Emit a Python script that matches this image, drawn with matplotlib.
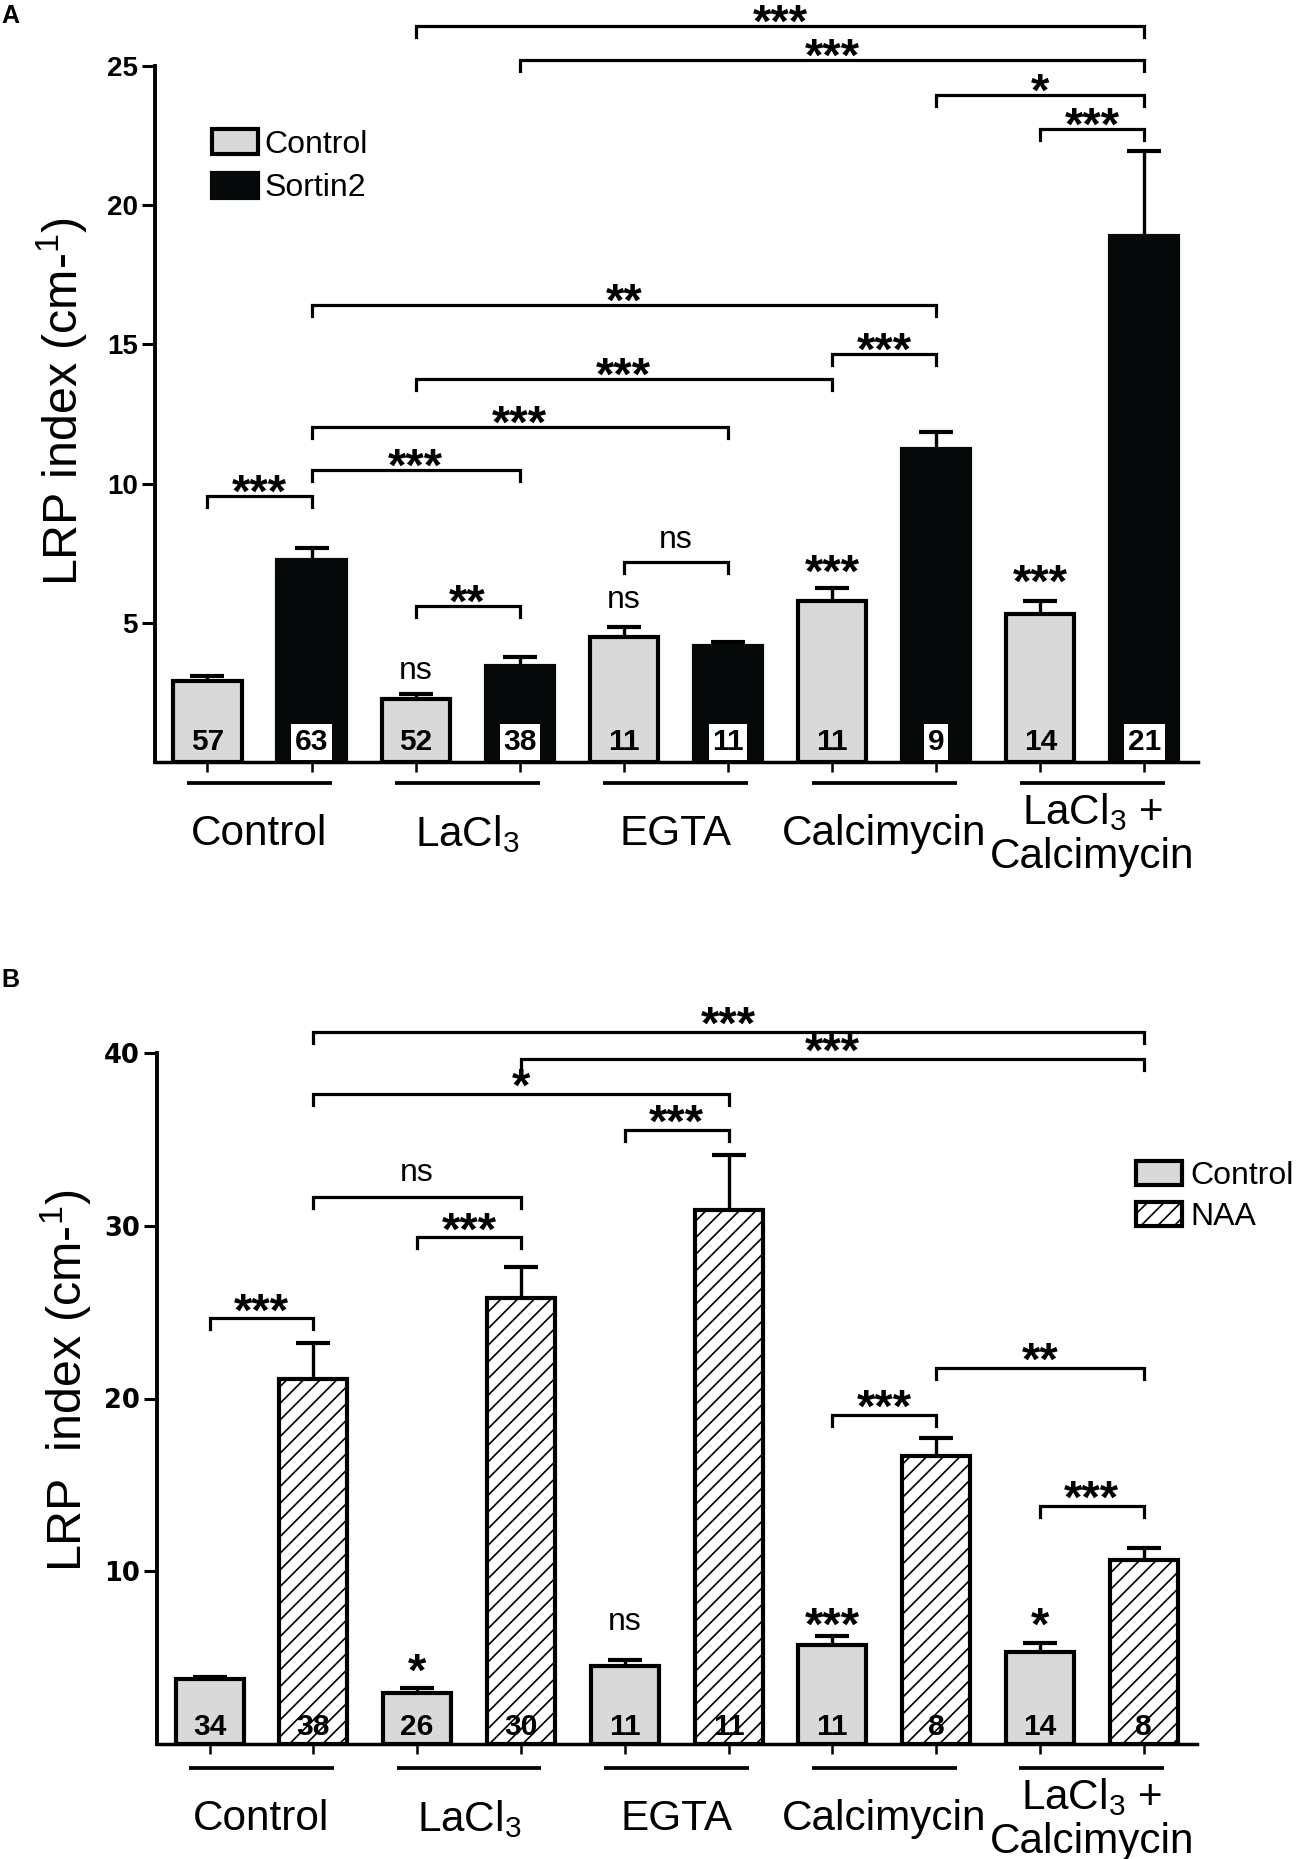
import numpy as np
import matplotlib
matplotlib.use('Agg')
import matplotlib.pyplot as plt
import matplotlib.transforms as mtransforms
from matplotlib import font_manager
from matplotlib.patches import Patch

_names = {f.name for f in font_manager.fontManager.ttflist}
if 'Liberation Sans Narrow' in _names:
    NARROW, NS = 'Liberation Sans Narrow', 1.0
else:
    NARROW, NS = 'Liberation Sans', 0.87
SANS = 'Liberation Sans'
plt.rcParams['font.family'] = [SANS, 'DejaVu Sans']
plt.rcParams['hatch.linewidth'] = 1.2

# ---------------- data ----------------
groups = ['Control', r'LaCl$_\mathregular{3}$', 'EGTA', 'Calcimycin',
          r'LaCl$_\mathregular{3}$ +' + '\n' + 'Calcimycin']

a_control_mean = [2.9, 2.25, 4.5, 5.8, 5.3]
a_control_sem = [0.2, 0.2, 0.35, 0.45, 0.5]
a_sortin2_mean = [7.25, 3.45, 4.15, 11.25, 18.9]
a_sortin2_sem = [0.42, 0.33, 0.17, 0.6, 3.05]
a_control_n = [57, 52, 11, 11, 14]
a_sortin2_n = [63, 38, 11, 9, 21]
a_yticks = [5, 10, 15, 20, 25]
# (bar i, bar j, bracket level, label); bar index = 2*group + series
a_brackets = [(0, 1, 9.55, '***'), (1, 3, 10.49, '***'), (1, 5, 12.04, '***'),
              (2, 6, 13.77, '***'), (6, 7, 14.66, '***'), (1, 7, 16.42, '**'),
              (4, 5, 7.19, 'ns'), (2, 3, 5.60, '**'), (2, 9, 26.44, '***'),
              (3, 9, 25.22, '***'), (7, 9, 23.96, '*'), (8, 9, 22.73, '***')]
a_marks = [(2, 3.28, 'ns'), (4, 5.84, 'ns'), (6, 7.23, '***'), (8, 6.87, '***')]

b_control_mean = [3.75, 2.95, 4.5, 5.75, 5.3]
b_control_sem = [0.15, 0.28, 0.35, 0.5, 0.55]
b_naa_mean = [21.1, 25.8, 30.9, 16.7, 10.65]
b_naa_sem = [2.1, 1.8, 3.2, 1.0, 0.7]
b_control_n = [34, 26, 11, 11, 14]
b_naa_n = [38, 30, 11, 8, 8]
b_yticks = [10, 20, 30, 40]
b_brackets = [(1, 9, 41.22, '***'), (3, 9, 39.64, '***'), (1, 5, 37.62, '*'),
              (4, 5, 35.57, '***'), (1, 3, 31.64, 'ns'), (2, 3, 29.32, '***'),
              (0, 1, 24.64, '***'), (7, 9, 21.78, '**'), (6, 7, 19.06, '***'),
              (8, 9, 13.79, '***')]
b_marks = [(2, 4.86, '*'), (4, 7.08, 'ns'), (6, 7.56, '***'), (8, 7.56, '*')]

# ---------------- style ----------------
W_PX, H_PX = 1297, 1859
GRAY = '#d9d9d9'
BLACK = '#060909'
BAR_W = 0.655
EDGE_LW = 3.0
STAR_FS = 34
NS_FS = 26.5 * NS
STAR_CENTER_PX = 0.55 * STAR_FS * 100 / 72
NS_CENTER_PX = 0.26 * NS_FS * 100 / 72


def px2pt(p):
    return p * 72.0 / 100.0


def fig_rect(l, t, r, b):
    return [l / W_PX, 1 - b / H_PX, (r - l) / W_PX, (b - t) / H_PX]


fig = plt.figure(figsize=(W_PX / 100, H_PX / 100), dpi=100)
axA = fig.add_axes(fig_rect(155, 66, 1198, 762))
axB = fig.add_axes(fig_rect(157, 1053, 1197, 1744))


def draw_panel(ax, cm, cs, tm, ts, cn, tn, hatched, yticks, ymax, xlim,
               brackets, marks, tick_font, star_gap_px, ns_gap_px,
               ul_y, lab_y, count_off_px, axes_h_px):
    ng = len(groups)
    xc = np.arange(ng) * 2.0
    xt = xc + 1.0
    pos = np.empty(2 * ng)
    pos[0::2] = xc
    pos[1::2] = xt

    ax.bar(xc, cm, BAR_W, color=GRAY, edgecolor='black', linewidth=EDGE_LW, zorder=2)
    if hatched:
        ax.bar(xt, tm, BAR_W, color='white', edgecolor='black', hatch='//',
               linewidth=EDGE_LW, zorder=2)
    else:
        ax.bar(xt, tm, BAR_W, color=BLACK, edgecolor=BLACK, linewidth=EDGE_LW, zorder=2)
    for x, m, s in ((xc, cm, cs), (xt, tm, ts)):
        eb = ax.errorbar(x, m, yerr=[np.zeros(len(s)), s], fmt='none', ecolor='black',
                         elinewidth=2.4, capsize=11.9, capthick=3.0, zorder=1.8)
        eb[1][0].set_visible(False)

    # counts
    for x, n in zip(xc, cn):
        ax.annotate(str(n), (x, 0), xytext=(0, px2pt(count_off_px)),
                    textcoords='offset points', ha='center', va='baseline',
                    fontsize=21.5, fontweight='bold', zorder=6, annotation_clip=False)
    for x, n in zip(xt, tn):
        kw = {}
        if not hatched:
            kw['bbox'] = dict(boxstyle='square,pad=0.12', fc='white', ec='none')
        ax.annotate(str(n), (x, 0), xytext=(0, px2pt(count_off_px)),
                    textcoords='offset points', ha='center', va='baseline',
                    fontsize=21.5, fontweight='bold', zorder=6, annotation_clip=False, **kw)

    # brackets
    leg = 11.0 * ymax / axes_h_px
    for i, j, y, lab in brackets:
        xi, xj = pos[i], pos[j]
        ax.plot([xi, xi, xj, xj], [y - leg, y, y, y - leg], color='black', lw=2.3,
                clip_on=False, zorder=4, solid_joinstyle='miter')
        if lab == 'ns':
            off = ns_gap_px - NS_CENTER_PX
            ax.annotate(lab, ((xi + xj) / 2, y), xytext=(0, px2pt(off)),
                        textcoords='offset points', ha='center', va='baseline',
                        fontsize=NS_FS, family=[NARROW, 'DejaVu Sans'],
                        annotation_clip=False)
        else:
            off = star_gap_px - STAR_CENTER_PX
            ax.annotate(lab, ((xi + xj) / 2, y), xytext=(0, px2pt(off)),
                        textcoords='offset points', ha='center', va='baseline',
                        fontsize=STAR_FS, fontweight='bold', annotation_clip=False)
    for i, y, lab in marks:
        if lab == 'ns':
            ax.annotate(lab, (pos[i], y), xytext=(0, px2pt(-NS_CENTER_PX)),
                        textcoords='offset points', ha='center', va='baseline',
                        fontsize=NS_FS, family=[NARROW, 'DejaVu Sans'],
                        annotation_clip=False)
        else:
            ax.annotate(lab, (pos[i], y), xytext=(0, px2pt(-STAR_CENTER_PX)),
                        textcoords='offset points', ha='center', va='baseline',
                        fontsize=STAR_FS, fontweight='bold', annotation_clip=False)

    # axes
    ax.set_xlim(*xlim)
    ax.set_ylim(0, ymax)
    ax.set_yticks(yticks)
    ax.set_yticklabels([str(v) for v in yticks], **tick_font)
    ax.set_xticks(pos)
    ax.set_xticklabels([])
    ax.tick_params(axis='y', length=9.4, width=2.2, pad=3, direction='out')
    ax.tick_params(axis='x', length=7, width=1.8, direction='out')
    for s in ('top', 'right'):
        ax.spines[s].set_visible(False)
    ax.spines['left'].set_linewidth(2.8)
    ax.spines['bottom'].set_linewidth(2.5)

    trans = mtransforms.blended_transform_factory(ax.transData, ax.transAxes)
    for g, name in enumerate(groups):
        cx = 2 * g + 0.5
        ax.plot([cx - 0.697, cx + 0.697], [ul_y, ul_y], transform=trans, color='black',
                lw=2.7, clip_on=False, solid_capstyle='butt')
        ax.text(cx, lab_y, name, transform=trans, ha='center', va='center',
                fontsize=35 * NS, family=[NARROW, 'DejaVu Sans'], linespacing=1.12,
                multialignment='center')


draw_panel(axA, a_control_mean, a_control_sem, a_sortin2_mean, a_sortin2_sem,
           a_control_n, a_sortin2_n, False, a_yticks, 25, (-0.504, 9.515),
           a_brackets, a_marks, dict(fontsize=20, fontweight='bold', family=SANS),
           15, 21.7, -0.0302, -0.1034, 12, 696)
draw_panel(axB, b_control_mean, b_control_sem, b_naa_mean, b_naa_sem,
           b_control_n, b_naa_n, True, b_yticks, 40, (-0.506, 9.513),
           b_brackets, b_marks, dict(fontsize=18.5, fontweight='bold', family='DejaVu Sans'),
           19, 24.6, -0.0347, -0.1085, 9, 691)

# legends
hA = [Patch(facecolor=GRAY, edgecolor='black', linewidth=3.0),
      Patch(facecolor=BLACK, edgecolor=BLACK, linewidth=3.0)]
axA.legend(hA, ['Control', 'Sortin2'], loc='upper left',
           bbox_to_anchor=(212 / W_PX, 1 - 129 / H_PX), bbox_transform=fig.transFigure,
           frameon=False, borderpad=0, borderaxespad=0, handlelength=1.45,
           handleheight=0.82, handletextpad=0.2, labelspacing=0.42,
           prop=dict(family=SANS, size=23))
hB = [Patch(facecolor=GRAY, edgecolor='black', linewidth=3.0),
      Patch(facecolor='white', edgecolor='black', linewidth=3.0, hatch='//')]
axB.legend(hB, ['Control', 'NAA'], loc='upper left',
           bbox_to_anchor=(1136 / W_PX, 1 - 1161 / H_PX), bbox_transform=fig.transFigure,
           frameon=False, borderpad=0, borderaxespad=0, handlelength=1.45,
           handleheight=0.78, handletextpad=0.25, labelspacing=0.35,
           prop=dict(family=SANS, size=23))

# y labels and panel letters
fig.text(62 / W_PX, 1 - 401 / H_PX, r'LRP index (cm-$^\mathregular{1}$)', rotation=90,
         ha='center', va='center', fontsize=40 * NS, family=[NARROW, 'DejaVu Sans'])
fig.text(66 / W_PX, 1 - 1381 / H_PX, r'LRP  index (cm-$^\mathregular{1}$)', rotation=90,
         ha='center', va='center', fontsize=40 * NS, family=[NARROW, 'DejaVu Sans'])
fig.text(1 / W_PX, 1 - 16 / H_PX, 'A', fontsize=18, fontweight='bold', ha='left', va='center')
fig.text(1 / W_PX, 1 - 980 / H_PX, 'B', fontsize=18, fontweight='bold', ha='left', va='center')

fig.savefig('out.png', dpi=100)
